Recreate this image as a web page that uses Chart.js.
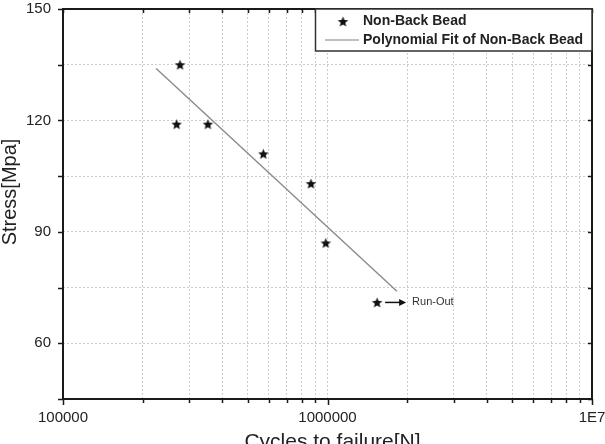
<!DOCTYPE html>
<html>
<head>
<meta charset="utf-8">
<script src="https://cdn.jsdelivr.net/npm/chart.js@4.4.0/dist/chart.umd.min.js"></script>
<style>
  html, body { margin: 0; padding: 0; background: #fff; }
  #wrap { width: 605px; height: 444px; position: relative; }
</style>
</head>
<body>
<div id="wrap"><canvas id="snChart"></canvas></div>
<script>
// S-N data
const cycles = [277000, 269000, 353000, 572000, 866000, 985000];
const stress = [135, 119, 119, 111, 103, 87];
const runOutCycles = [1540000];
const runOutStress = [71];
const fitCycles = [225000, 1830000];
const fitStress = [134, 74];

const xMajorTicks = [100000, 1000000, 10000000];
const xMajorLabels = ['100000', '1000000', '1E7'];
const yLabelTicks = [60, 90, 120, 150];

const FONT = '"Liberation Sans", Arial, sans-serif';

function makeStar(r) {
    const c = document.createElement('canvas');
    const s = Math.ceil(r * 2) + 2;
    c.width = c.height = s;
    const g = c.getContext('2d');
    g.translate(s / 2, s / 2 + 0.5);
    g.beginPath();
    for (let i = 0; i < 10; i++) {
        const rad = i % 2 ? r * 0.45 : r;
        const a = -Math.PI / 2 + i * Math.PI / 5;
        g.lineTo(rad * Math.cos(a), rad * Math.sin(a));
    }
    g.closePath();
    g.fillStyle = '#111';
    g.fill();
    return c;
}
const star = makeStar(5.5);

function toPoints(xs, ys) {
    return xs.map((x, i) => ({ x: x, y: ys[i] }));
}

const decorPlugin = {
    id: 'decor',
    afterDraw(chart) {
        const ctx = chart.ctx;
        const a = chart.chartArea;
        const xs = chart.scales.x;
        const ys = chart.scales.y;
        ctx.save();

        // frame
        ctx.strokeStyle = '#1a1a1a';
        ctx.lineWidth = 2;
        ctx.strokeRect(a.left, a.top, a.right - a.left, a.bottom - a.top);

        // tick marks: outward on left/bottom, inward on top/right
        ctx.lineWidth = 1.5;
        xs.ticks.forEach(t => {
            const px = Math.round(xs.getPixelForValue(t.value)) + 0.5;
            const major = xMajorTicks.includes(t.value);
            ctx.beginPath();
            ctx.moveTo(px, a.bottom);
            ctx.lineTo(px, a.bottom + (major ? 6 : 4));
            ctx.moveTo(px, a.top);
            ctx.lineTo(px, a.top + 4);
            ctx.stroke();
        });
        ys.ticks.forEach(t => {
            const py = Math.round(ys.getPixelForValue(t.value)) + 0.5;
            ctx.beginPath();
            ctx.moveTo(a.left - 5, py);
            ctx.lineTo(a.left, py);
            ctx.moveTo(a.right - 4, py);
            ctx.lineTo(a.right, py);
            ctx.stroke();
        });

        // legend box
        const bx = a.right - 277, by = a.top, bw = 277, bh = 42;
        ctx.fillStyle = '#fff';
        ctx.fillRect(bx, by, bw, bh);
        ctx.strokeStyle = '#333';
        ctx.lineWidth = 1.5;
        ctx.strokeRect(bx + 0.5, by, bw - 0.5, bh);
        ctx.drawImage(star, bx + 28 - star.width / 2, by + 12.5 - star.height / 2);
        ctx.strokeStyle = '#808080';
        ctx.lineWidth = 1.2;
        ctx.beginPath();
        ctx.moveTo(bx + 10, by + 31);
        ctx.lineTo(bx + 44, by + 31);
        ctx.stroke();
        ctx.fillStyle = '#222';
        ctx.font = 'bold 14px ' + FONT;
        ctx.textAlign = 'left';
        ctx.textBaseline = 'middle';
        ctx.fillText('Non-Back Bead', bx + 48, by + 12.5);
        ctx.fillText('Polynomial Fit of Non-Back Bead', bx + 48, by + 31);

        // run-out arrow and label
        const ro = chart.getDatasetMeta(1).data[0];
        ctx.strokeStyle = '#111';
        ctx.fillStyle = '#111';
        ctx.lineWidth = 1.5;
        ctx.beginPath();
        ctx.moveTo(ro.x + 8, ro.y);
        ctx.lineTo(ro.x + 24, ro.y);
        ctx.stroke();
        ctx.beginPath();
        ctx.moveTo(ro.x + 29, ro.y);
        ctx.lineTo(ro.x + 22, ro.y - 3.5);
        ctx.lineTo(ro.x + 22, ro.y + 3.5);
        ctx.closePath();
        ctx.fill();
        ctx.fillStyle = '#333';
        ctx.font = '11px ' + FONT;
        ctx.fillText('Run-Out', ro.x + 35, ro.y);

        // axis titles
        ctx.fillStyle = '#222';
        ctx.font = '20px ' + FONT;
        ctx.textAlign = 'center';
        ctx.save();
        ctx.translate(10, (a.top + a.bottom) / 2 - 12);
        ctx.rotate(-Math.PI / 2);
        ctx.fillText('Stress[Mpa]', 0, 0);
        ctx.restore();
        ctx.font = '21px ' + FONT;
        ctx.textBaseline = 'alphabetic';
        ctx.fillText('Cycles to failure[N]', (a.left + a.right) / 2 + 5, 448);

        ctx.restore();
    }
};

function initializeSNChart() {
    const ctx = document.getElementById('snChart').getContext('2d');

    new Chart(ctx, {
        type: 'scatter',
        data: {
            datasets: [
                {
                    label: 'Non-Back Bead',
                    data: toPoints(cycles, stress),
                    pointStyle: star,
                    pointRadius: 6,
                    showLine: false
                },
                {
                    label: 'Run-Out',
                    data: toPoints(runOutCycles, runOutStress),
                    pointStyle: star,
                    pointRadius: 6,
                    showLine: false
                },
                {
                    label: 'Polynomial Fit of Non-Back Bead',
                    data: toPoints(fitCycles, fitStress),
                    showLine: true,
                    borderColor: '#8a8a8a',
                    borderWidth: 1.4,
                    pointRadius: 0
                }
            ]
        },
        options: {
            responsive: true,
            maintainAspectRatio: false,
            animation: false,
            layout: { padding: { top: 9, right: 13, left: 0, bottom: 0 } },
            plugins: {
                legend: { display: false },
                tooltip: { enabled: false }
            },
            scales: {
                x: {
                    type: 'logarithmic',
                    min: 100000,
                    max: 10000000,
                    afterFit: s => {
                        s.height = 45;
                        s.paddingLeft = 0;
                        s.paddingRight = 0;
                    },
                    afterBuildTicks: s => {
                        const t = [];
                        for (let d = 100000; d < 10000000; d *= 10) {
                            for (let m = 1; m < 10; m++) t.push({ value: m * d });
                        }
                        t.push({ value: 10000000 });
                        s.ticks = t;
                    },
                    ticks: {
                        autoSkip: false,
                        maxRotation: 0,
                        padding: 10,
                        color: '#222',
                        font: { family: FONT, size: 15 },
                        callback: v => {
                            const i = xMajorTicks.indexOf(v);
                            return i >= 0 ? xMajorLabels[i] : '';
                        }
                    },
                    grid: { color: '#cdcdcd', lineWidth: 1, drawTicks: false },
                    border: { display: false, dash: [2, 2] }
                },
                y: {
                    min: 45,
                    max: 150,
                    afterFit: s => {
                        s.width = 63;
                        s.paddingTop = 0;
                        s.paddingBottom = 0;
                    },
                    ticks: {
                        stepSize: 15,
                        padding: 12,
                        color: '#222',
                        font: { family: FONT, size: 15 },
                        callback: v => yLabelTicks.includes(v) ? String(v) : ''
                    },
                    grid: { color: '#cdcdcd', lineWidth: 1, drawTicks: false },
                    border: { display: false, dash: [2, 2] }
                }
            }
        },
        plugins: [decorPlugin]
    });
}

initializeSNChart();
</script>
</body>
</html>
